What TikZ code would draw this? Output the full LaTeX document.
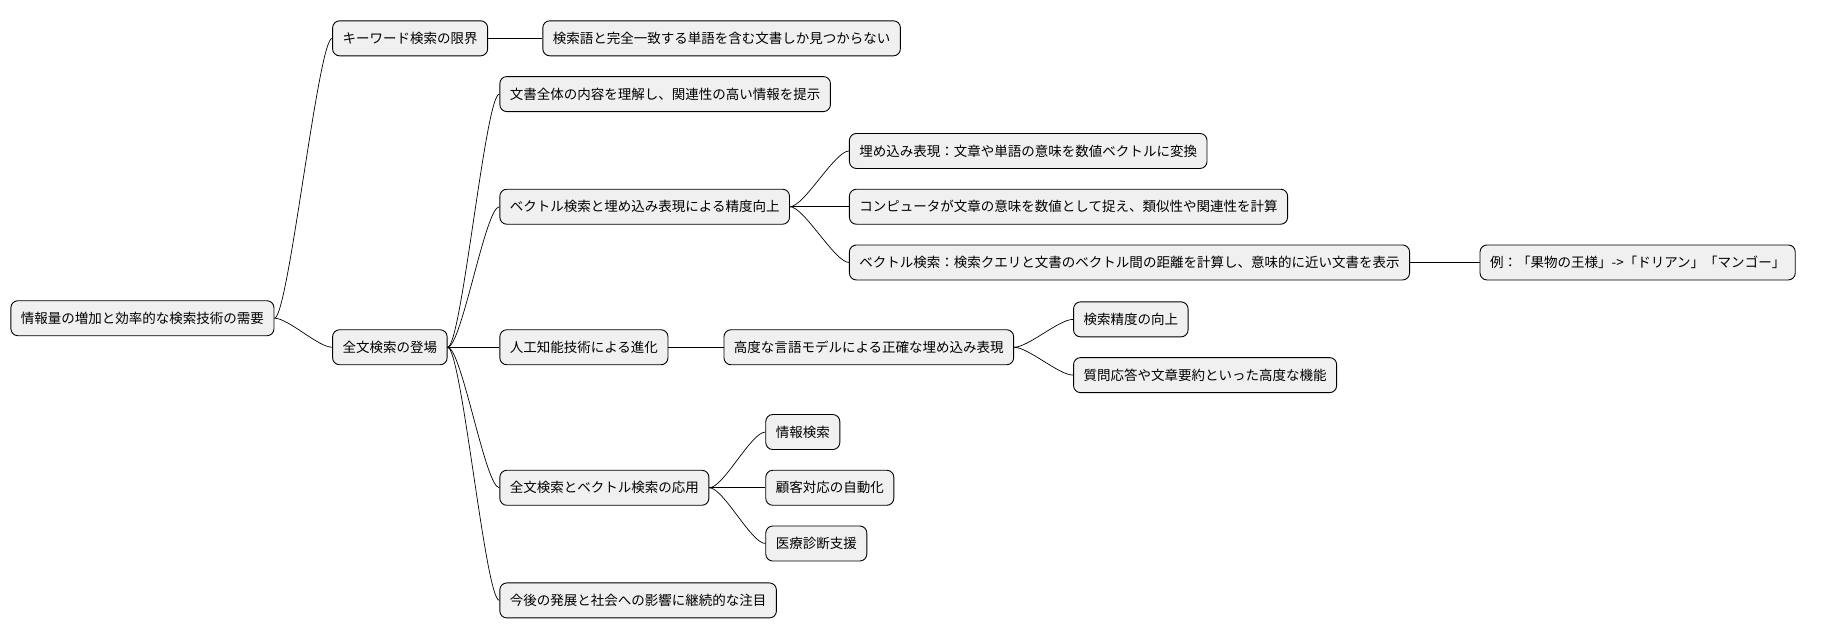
\documentclass[tikz,border=0pt]{standalone}
\usepackage{fontspec}
\setmainfont{Noto Sans CJK JP}
\begin{document}
\begin{tikzpicture}[x=1.161pt,y=-1.161pt,
  n/.style={draw=black,line width=0.9pt,fill=black!6,rounded corners=7pt,anchor=west,
    font=\fontsize{13.5pt}{15pt}\selectfont,inner xsep=10pt,minimum height=35pt},
  e/.style={line width=0.7pt}]
\useasboundingbox (0,0) rectangle (1568,551);
\node[n] (r) at (9,274) {情報量の増加と効率的な検索技術の需要};
\node[n] (a) at (286,33) {キーワード検索の限界};
\node[n] (a1) at (467,33) {検索語と完全一致する単語を含む文書しか見つからない};
\node[n] (b) at (286,299) {全文検索の登場};
\node[n] (b1) at (430,81) {文書全体の内容を理解し、関連性の高い情報を提示};
\node[n] (b2) at (430,178) {ベクトル検索と埋め込み表現による精度向上};
\node[n] (b21) at (731,130) {埋め込み表現：文章や単語の意味を数値ベクトルに変換};
\node[n] (b22) at (731,178) {コンピュータが文章の意味を数値として捉え、類似性や関連性を計算};
\node[n] (b23) at (731,226) {ベクトル検索：検索クエリと文書のベクトル間の距離を計算し、意味的に近い文書を表示};
\node[n] (b231) at (1274,226) {例：「果物の王様」->「ドリアン」「マンゴー」};
\node[n] (b3) at (430,299) {人工知能技術による進化};
\node[n] (b31) at (623,299) {高度な言語モデルによる正確な埋め込み表現};
\node[n] (b311) at (924,275) {検索精度の向上};
\node[n] (b312) at (924,323) {質問応答や文章要約といった高度な機能};
\node[n] (b4) at (430,420) {全文検索とベクトル検索の応用};
\node[n] (b41) at (659,372) {情報検索};
\node[n] (b42) at (659,420) {顧客対応の自動化};
\node[n] (b43) at (659,468) {医療診断支援};
\node[n] (b5) at (430,517) {今後の発展と社会への影響に継続的な注目};
\foreach \p/\c in {r/a,r/b,a/a1,b/b1,b/b2,b/b3,b/b4,b/b5,b2/b21,b2/b22,b2/b23,b23/b231,b3/b31,b31/b311,b31/b312,b4/b41,b4/b42,b4/b43}
  \draw[e] (\p.east) .. controls +(14pt,0) and +(-14pt,0) .. (\c.west);
\end{tikzpicture}
\end{document}
